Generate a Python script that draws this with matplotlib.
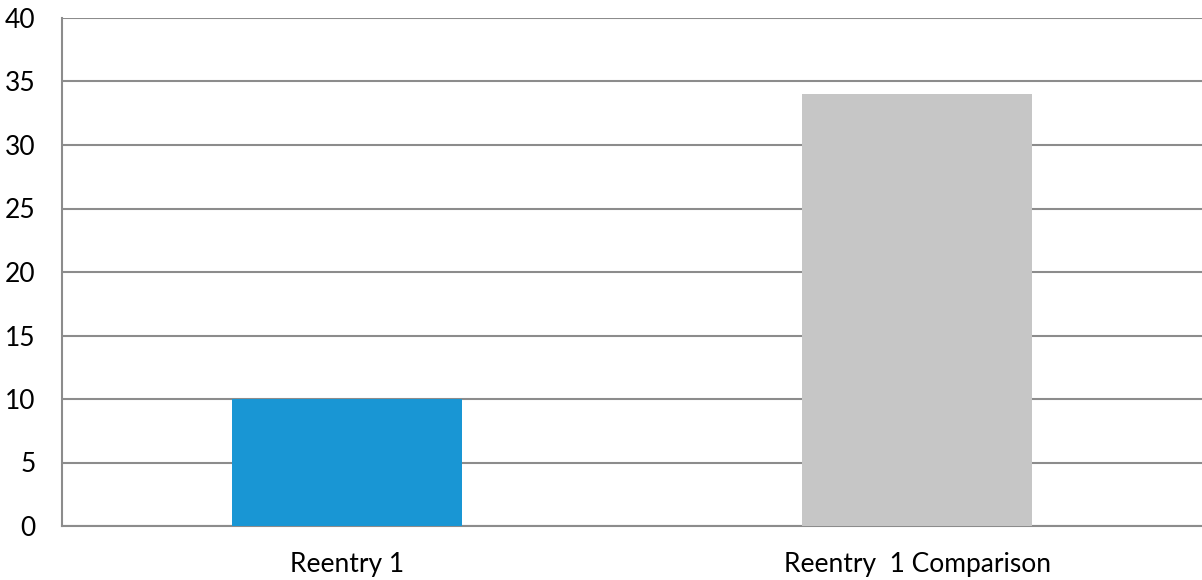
import matplotlib
matplotlib.use("Agg")
import matplotlib.pyplot as plt

# Chart values
categories = ["Reentry 1", "Reentry  1 Comparison"]
values = [10, 34]
bar_colors = ["#1996d4", "#c6c6c6"]
y_ticks = [0, 5, 10, 15, 20, 25, 30, 35, 40]

plt.rcParams['font.family'] = ['Lato', 'DejaVu Sans']

W, H = 1202, 580
fig = plt.figure(figsize=(W / 100, H / 100), dpi=100)
ax = fig.add_axes([62 / W, (H - 526) / H, (W - 62) / W, (526 - 18) / H])

x = list(range(len(categories)))
ax.bar(x, values, width=0.403, color=bar_colors, zorder=3)

ax.set_xlim(-0.5, 1.5)
ax.set_ylim(0, 40)
ax.set_yticks(y_ticks)
ax.set_xticks(x)
ax.set_xticklabels(categories)

ax.grid(axis='y', color='#8c8c8c', linewidth=1.5, zorder=0)
for side in ['top', 'right']:
    ax.spines[side].set_visible(False)
ax.spines['left'].set_color('#8c8c8c')
ax.spines['left'].set_linewidth(1.5)
ax.spines['bottom'].set_color('#8c8c8c')
ax.spines['bottom'].set_linewidth(1.5)

ax.tick_params(axis='y', length=0, pad=19, labelsize=19)
ax.tick_params(axis='x', length=0, pad=19, labelsize=19)

fig.savefig("out.png", dpi=100)
